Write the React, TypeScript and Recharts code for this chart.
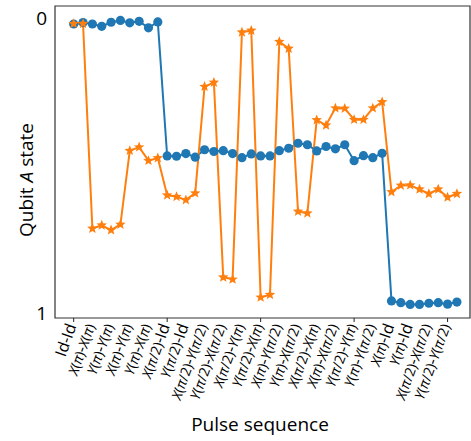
import { LineChart, Line, XAxis, YAxis, ReferenceArea } from 'recharts';

const pulseLabels = [
  'Id-Id', 'X(π)-X(π)', 'Y(π)-Y(π)', 'X(π)-Y(π)', 'Y(π)-X(π)',
  'X(π/2)-Id', 'Y(π/2)-Id', 'X(π/2)-Y(π/2)', 'Y(π/2)-X(π/2)',
  'X(π/2)-Y(π)', 'Y(π/2)-X(π)', 'X(π)-Y(π/2)', 'Y(π)-X(π/2)',
  'X(π/2)-X(π)', 'X(π)-X(π/2)', 'Y(π/2)-Y(π)', 'Y(π)-Y(π/2)',
  'X(π)-Id', 'Y(π)-Id', 'X(π/2)-X(π/2)', 'Y(π/2)-Y(π/2)',
];

const blueState = [
  0.021, 0.016, 0.021, 0.029, 0.015, 0.009, 0.017, 0.012, 0.034, 0.014,
  0.468, 0.469, 0.46, 0.472, 0.447, 0.453, 0.45, 0.46, 0.474, 0.461,
  0.468, 0.468, 0.45, 0.442, 0.425, 0.43, 0.451, 0.436, 0.444, 0.43,
  0.484, 0.467, 0.474, 0.459,
  0.959, 0.965, 0.971, 0.971, 0.967, 0.965, 0.97, 0.963,
];

const orangeState = [
  0.02, 0.02, 0.714, 0.703, 0.719, 0.7, 0.45, 0.438, 0.484, 0.475,
  0.601, 0.606, 0.617, 0.594, 0.233, 0.219, 0.879, 0.886, 0.049, 0.043,
  0.947, 0.938, 0.081, 0.104, 0.656, 0.662, 0.346, 0.364, 0.306, 0.307,
  0.345, 0.345, 0.306, 0.285,
  0.59, 0.568, 0.567, 0.581, 0.596, 0.581, 0.608, 0.596,
];

const yTicks = [0, 1];

const data = blueState.map((b, i) => ({ x: i, blue: b, orange: orangeState[i] }));
const xTicks = pulseLabels.map((_, i) => i * 2);

const FONT = '"Open Sans", "Noto Sans", sans-serif';
const PLOT_BOTTOM = 318;

// split a label into runs: X, Y and pi italic, "Id" and "-" a bit larger
function labelRuns(s: string) {
  const runs: { t: string; italic: boolean; big: boolean }[] = [];
  let i = 0;
  while (i < s.length) {
    if (s.startsWith('Id', i)) {
      runs.push({ t: 'Id', italic: false, big: true });
      i += 2;
      continue;
    }
    const c = s[i];
    if (c === 'X' || c === 'Y' || c === 'π') runs.push({ t: c, italic: true, big: false });
    else if (c === '-') runs.push({ t: c, italic: false, big: true });
    else runs.push({ t: c, italic: false, big: false });
    i++;
  }
  return runs;
}

function PulseTick(props: any) {
  const { x, payload } = props;
  const label = pulseLabels[payload.value / 2];
  return (
    <g>
      {payload.value % 10 === 0 && (
        <line x1={x} x2={x} y1={PLOT_BOTTOM} y2={PLOT_BOTTOM + 4} stroke="#222" strokeWidth={1} />
      )}
      <text
        transform={`translate(${x + 3},${PLOT_BOTTOM + 8}) rotate(-70)`}
        textAnchor="end"
        fontFamily={FONT}
        fill="#000"
      >
        {labelRuns(label).map((r, k) => (
          <tspan key={k} fontStyle={r.italic ? 'italic' : 'normal'} fontSize={r.big ? 16 : 14}>
            {r.t}
          </tspan>
        ))}
      </text>
    </g>
  );
}

function StateTick(props: any) {
  const { y, payload } = props;
  return (
    <text x={47} y={y} textAnchor="end" dominantBaseline="central" fontSize={19} fontFamily={FONT} fill="#000">
      {payload.value}
    </text>
  );
}

function StarDot(props: any) {
  const { cx, cy } = props;
  if (cx == null || cy == null) return null;
  const pts: string[] = [];
  for (let k = 0; k < 10; k++) {
    const r = k % 2 === 0 ? 5.5 : 2.4;
    const a = -Math.PI / 2 + (k * Math.PI) / 5;
    pts.push(`${cx + r * Math.cos(a)},${cy + r * Math.sin(a)}`);
  }
  return <polygon points={pts.join(' ')} fill="#ff7f0e" />;
}

function CircleDot(props: any) {
  const { cx, cy } = props;
  if (cx == null || cy == null) return null;
  return <circle cx={cx} cy={cy} r={4.6} fill="#1f77b4" />;
}

export default function App() {
  return (
    <div style={{ position: 'absolute', left: 0, top: 0, background: '#fff' }}>
      <LineChart width={471} height={441} data={data} margin={{ top: 6, right: 1, left: 0, bottom: 0 }}>
        <XAxis
          dataKey="x"
          type="number"
          domain={[-2, 42.4]}
          ticks={xTicks}
          interval={0}
          height={123}
          axisLine={false}
          tickLine={false}
          tick={<PulseTick />}
          allowDataOverflow
          label={{
            content: () => (
              <text x={260} y={431} textAnchor="middle" fontSize={19} fontFamily={FONT} fill="#000">
                Pulse sequence
              </text>
            ),
          }}
        />
        <YAxis
          type="number"
          domain={[-0.04, 1.017]}
          reversed
          ticks={yTicks}
          width={55}
          axisLine={false}
          tickLine={false}
          tick={<StateTick />}
          allowDataOverflow
          label={{
            content: () => (
              <text
                transform="translate(33,180) rotate(-90)"
                textAnchor="middle"
                fontSize={19}
                fontFamily={FONT}
                fill="#000"
              >
                Qubit <tspan fontStyle="italic">A</tspan> state
              </text>
            ),
          }}
        />
        <ReferenceArea x1={-2} x2={42.4} y1={-0.04} y2={1.017} fill="none" stroke="#333" strokeWidth={1.2} />
        <Line
          dataKey="blue"
          stroke="#1f77b4"
          strokeWidth={2}
          dot={<CircleDot />}
          activeDot={false}
          isAnimationActive={false}
        />
        <Line
          dataKey="orange"
          stroke="#ff7f0e"
          strokeWidth={2}
          dot={<StarDot />}
          activeDot={false}
          isAnimationActive={false}
        />
      </LineChart>
    </div>
  );
}
